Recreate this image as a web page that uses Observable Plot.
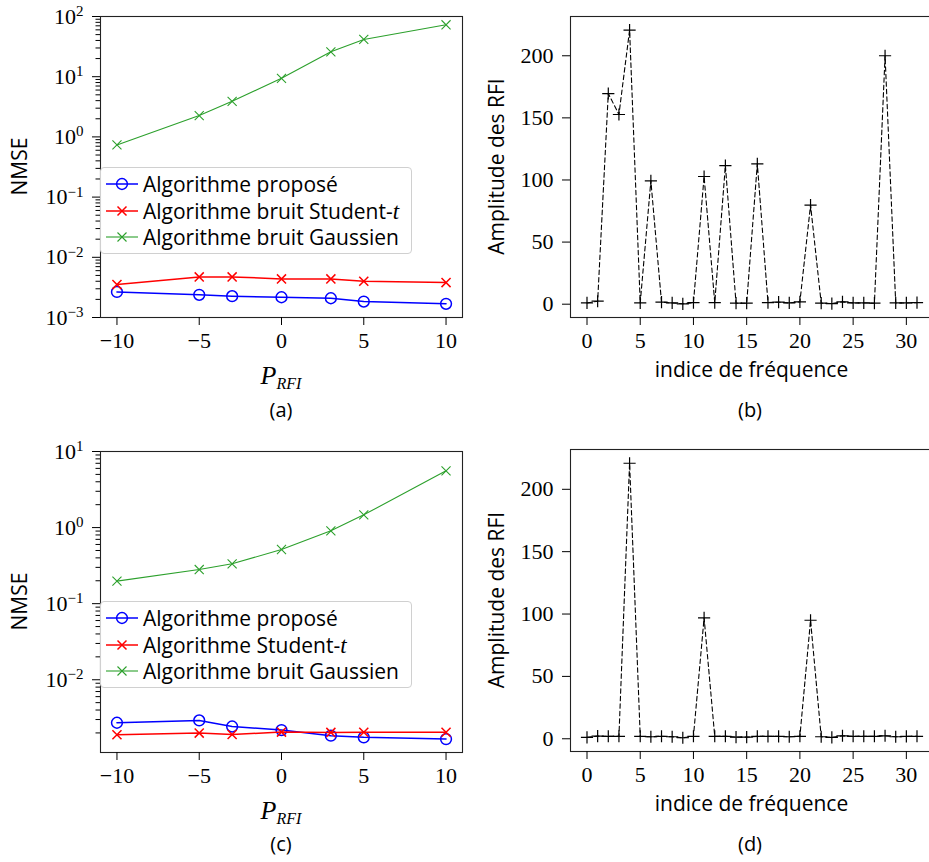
<!DOCTYPE html>
<html><head><meta charset="utf-8">
<script src="https://cdn.jsdelivr.net/npm/d3@7"></script>
<script src="https://cdn.jsdelivr.net/npm/@observablehq/plot@0.6"></script>
<style>
html,body{margin:0;padding:0;background:#fff;overflow:hidden;width:929px;height:862px}
#root{position:relative;width:929px;height:862px;overflow:hidden}
.panel{position:absolute}
.cap{position:absolute;font-family:"Open Sans";font-size:20px;transform:translate(-50%,-50%);white-space:nowrap;color:#000}
.legend{position:absolute;border:1px solid #d0d0d0;border-radius:4px;background:rgba(255,255,255,0.8);box-sizing:border-box;font-family:"Open Sans";font-size:21px;color:#000}
.row{position:absolute;left:0;height:26px;display:flex;align-items:center;white-space:nowrap}
.row svg{display:block}
</style></head>
<body><div id="root"></div>
<script>
// ---------- data ----------
const pRFI = [-10, -5, -3, 0, 3, 5, 10];
const pTicks = [-10, -5, 0, 5, 10];

const nmseA_propose = [2.66e-3, 2.38e-3, 2.26e-3, 2.17e-3, 2.09e-3, 1.84e-3, 1.69e-3];
const nmseA_student = [3.52e-3, 4.72e-3, 4.72e-3, 4.38e-3, 4.38e-3, 4.0e-3, 3.8e-3];
const nmseA_gauss   = [0.736, 2.26, 3.9, 9.4, 25.9, 41.6, 72.8];

const nmseC_propose = [2.72e-3, 2.92e-3, 2.43e-3, 2.18e-3, 1.84e-3, 1.75e-3, 1.66e-3];
const nmseC_student = [1.89e-3, 1.99e-3, 1.91e-3, 2.05e-3, 2.03e-3, 2.04e-3, 2.04e-3];
const nmseC_gauss   = [0.198, 0.281, 0.334, 0.515, 0.907, 1.47, 5.57];

const majorA = [1e-3, 1e-2, 1e-1, 1, 10, 100];
const majorC = [1e-2, 1e-1, 1, 10];

const freqIndex = [0,1,2,3,4,5,6,7,8,9,10,11,12,13,14,15,16,17,18,19,20,21,22,23,24,25,26,27,28,29,30,31];
const freqTicks = [0, 5, 10, 15, 20, 25, 30];
const ampTicks = [0, 50, 100, 150, 200];
const ampB = [1, 2.4, 169.6, 152.7, 220.6, 1, 99.3, 1.6, 1, 0.3, 1.3, 102.8, 1.3, 111.6, 0.8, 0.8,
              113, 1.3, 1.6, 1, 1.9, 79.8, 0.8, 0.5, 1.9, 1, 1, 0.8, 200, 1, 1, 1.3];
const ampD = [1.1, 2.1, 2, 2, 220.9, 2, 1.6, 2, 1.6, 0.8, 2, 96.9, 2, 2, 1.3, 1.3,
              1.9, 1.9, 1.9, 1.6, 2, 95, 1.6, 1.1, 2.4, 2, 2, 2, 2.4, 1.6, 1.9, 2];

const legendA = ["Algorithme proposé", "Algorithme bruit Student-", "Algorithme bruit Gaussien"];
const legendC = ["Algorithme proposé", "Algorithme Student-", "Algorithme bruit Gaussien"];

const colors = {propose: "#0000ff", student: "#ff0000", gauss: "#2ca02c"};

// ---------- helpers ----------
const root = document.getElementById("root");
const rows = (xs, ys) => xs.map((x, i) => ({x, y: ys[i]}));
function minorTicks(domain) {
  const out = [];
  for (let e = Math.floor(Math.log10(domain[0])); e <= Math.ceil(Math.log10(domain[1])); e++)
    for (let m = 2; m <= 9; m++) {
      const v = m * Math.pow(10, e);
      if (v >= domain[0] && v <= domain[1]) out.push(v);
    }
  return out;
}
function padDomain(vals, top) {
  const lo = d3.min(vals), hi = d3.max(vals), p = 0.05 * (hi - lo);
  return [lo - p, top ?? hi + p];
}
const NS = "http://www.w3.org/2000/svg";
function addText(svg, attrs, content) {
  const t = document.createElementNS(NS, "text");
  for (const k in attrs) t.setAttribute(k, attrs[k]);
  if (typeof content === "string") t.textContent = content; else content(t);
  svg.appendChild(t);
  return t;
}
function supTicks(svg) {
  svg.querySelectorAll("text").forEach(t => {
    const s = t.textContent;
    if (!s.includes("^")) return;
    const [b, e] = s.split("^");
    t.textContent = "";
    const t1 = document.createElementNS(NS, "tspan"); t1.textContent = b;
    const t2 = document.createElementNS(NS, "tspan"); t2.textContent = e;
    t2.setAttribute("dy", "-0.5em"); t2.style.fontSize = "15px";
    t.appendChild(t1); t.appendChild(t2);
  });
}
function place(el, left, top) {
  el.classList.add("panel");
  el.style.left = left + "px"; el.style.top = top + "px";
  root.appendChild(el);
}
function pLabel(svg, x, y) {
  addText(svg, {x, y, "text-anchor": "middle", "font-family": "Liberation Serif", "font-style": "italic", "font-size": 26}, t => {
    const a = document.createElementNS(NS, "tspan"); a.textContent = "P";
    const b = document.createElementNS(NS, "tspan"); b.textContent = "RFI";
    b.setAttribute("font-size", 16); b.setAttribute("dy", 5);
    t.appendChild(a); t.appendChild(b);
  });
}
function sansLabel(svg, x, y, text, rotate) {
  const attrs = {"text-anchor": "middle", "font-family": "Open Sans", "font-size": 21, fill: "#000"};
  if (rotate) attrs.transform = `translate(${x},${y}) rotate(-90)`; else { attrs.x = x; attrs.y = y; }
  addText(svg, attrs, text);
}
const plotStyle = {fontFamily: "'Liberation Serif', serif", fontSize: "22px", color: "#000", background: "transparent", overflow: "visible"};
const tickText = {fontFamily: "Liberation Serif", fontSize: 22};

// ---------- NMSE panels ----------
function logPanel(left, top, prop, stud, gauss, majors, yDomain) {
  const h = 400, fh = 301;
  const svg = Plot.plot({
    width: 470, height: h,
    marginLeft: 100, marginRight: 8, marginTop: 16, marginBottom: h - 16 - fh,
    x: {domain: [-11, 11]},
    y: {type: "log", domain: yDomain},
    style: plotStyle,
    marks: [
      Plot.frame({stroke: "#222", strokeWidth: 1.1}),
      Plot.axisX({ticks: pTicks, tickSize: 8, tickPadding: 7, label: null, ...tickText, tickFormat: d => d3.format("d")(d).replace("-", "\u2212")}),
      Plot.axisY({ticks: majors, tickSize: 8, tickPadding: 9, label: null, ...tickText,
        tickFormat: d => "10^" + String(Math.round(Math.log10(d))).replace("-", "\u2212")}),
      Plot.axisY({ticks: minorTicks(yDomain), tickSize: 4.5, label: null, tickFormat: () => ""}),
      Plot.line(rows(pRFI, prop), {x: "x", y: "y", stroke: colors.propose, strokeWidth: 1.5}),
      Plot.dot(rows(pRFI, prop), {x: "x", y: "y", symbol: "circle", r: 5.4, stroke: colors.propose, fill: "none", strokeWidth: 1.5}),
      Plot.line(rows(pRFI, stud), {x: "x", y: "y", stroke: colors.student, strokeWidth: 1.5}),
      Plot.dot(rows(pRFI, stud), {x: "x", y: "y", symbol: "times", r: 4.2, stroke: colors.student, fill: "none", strokeWidth: 1.5}),
      Plot.line(rows(pRFI, gauss), {x: "x", y: "y", stroke: colors.gauss, strokeWidth: 1.1}),
      Plot.dot(rows(pRFI, gauss), {x: "x", y: "y", symbol: "times", r: 4.2, stroke: colors.gauss, fill: "none", strokeWidth: 1.1})
    ]
  });
  supTicks(svg);
  sansLabel(svg, 27, 16 + fh / 2, "NMSE", true);
  pLabel(svg, 281, 384);
  place(svg, left, top);
  return svg;
}

function ampPanel(left, top, amps, fh) {
  const h = 400;
  const svg = Plot.plot({
    width: 465, height: h,
    marginLeft: 100, marginRight: 2, marginTop: 16, marginBottom: h - 16 - fh,
    x: {domain: padDomain(freqIndex)},
    y: {domain: padDomain(amps)},
    style: plotStyle,
    marks: [
      Plot.frame({stroke: "#222", strokeWidth: 1.1}),
      Plot.axisX({ticks: freqTicks, tickSize: 8, tickPadding: 7, label: null, ...tickText, tickFormat: d3.format("d")}),
      Plot.axisY({ticks: ampTicks, tickSize: 8, tickPadding: 9, label: null, ...tickText, tickFormat: d3.format("d")}),
      Plot.line(rows(freqIndex, amps), {x: "x", y: "y", stroke: "#000", strokeWidth: 1.1, strokeDasharray: "4.5,3"}),
      Plot.dot(rows(freqIndex, amps), {x: "x", y: "y", symbol: "plus", r: 4, stroke: "#000", strokeWidth: 1.2})
    ]
  });
  sansLabel(svg, 34, 16 + fh / 2, "Amplitude des RFI", true);
  sansLabel(svg, 281.5, 16 + fh + 60, "indice de fréquence", false);
  place(svg, left, top);
  return svg;
}

logPanel(0, 0, nmseA_propose, nmseA_student, nmseA_gauss, majorA, [1e-3, 1e2]);
ampPanel(470, 0, ampB, 301);
const logC = [nmseC_propose, nmseC_student, nmseC_gauss].flat().map(Math.log10);
const lcLo = d3.min(logC) - 0.05 * (d3.max(logC) - d3.min(logC));
logPanel(0, 435, nmseC_propose, nmseC_student, nmseC_gauss, majorC, [Math.pow(10, lcLo), 10]);
ampPanel(470, 433, ampD, 302);

// ---------- legends ----------
function sample(kind, color) {
  let m = "";
  if (kind === "circle") m = `<circle cx="16" cy="13" r="5.4" fill="none" stroke="${color}" stroke-width="1.5"/>`;
  else {
    const sw = kind === "xr" ? 1.5 : 1.1;
    m = `<path d="M11.5,8.5L20.5,17.5M11.5,17.5L20.5,8.5" stroke="${color}" stroke-width="${sw}" fill="none"/>`;
  }
  const lw = kind === "xg" ? 1.1 : 1.5;
  return `<svg width="32" height="26"><line x1="0" y1="13" x2="32" y2="13" stroke="${color}" stroke-width="${lw}"/>${m}</svg>`;
}
function legend(left, top, labels) {
  const div = document.createElement("div");
  div.className = "legend";
  div.style.left = left + "px"; div.style.top = top + "px";
  div.style.width = "312px"; div.style.height = "87px";
  const specs = [["circle", colors.propose, ""], ["xr", colors.student, "t"], ["xg", colors.gauss, ""]];
  labels.forEach((lab, i) => {
    const r = document.createElement("div");
    r.className = "row";
    r.style.top = (3 + i * 26.7) + "px";
    r.style.left = "5px";
    const extra = specs[i][2] ? `<span style="font-family:'Liberation Serif';font-style:italic;font-size:23px">${specs[i][2]}</span>` : "";
    r.innerHTML = sample(specs[i][0], specs[i][1]) + `<span style="margin-left:5px">${lab}${extra}</span>`;
    div.appendChild(r);
  });
  root.appendChild(div);
}
legend(100, 167, legendA);
legend(100, 601, legendC);

// ---------- captions ----------
[["(a)", 281, 409], ["(b)", 750, 409], ["(c)", 281, 843], ["(d)", 750, 843]].forEach(([t, x, y]) => {
  const d = document.createElement("div");
  d.className = "cap"; d.textContent = t;
  d.style.left = x + "px"; d.style.top = y + "px";
  root.appendChild(d);
});
</script>
</body></html>
